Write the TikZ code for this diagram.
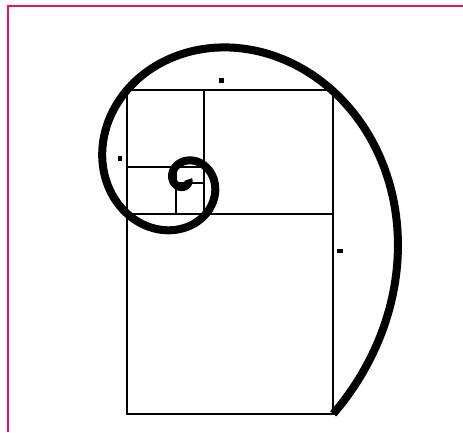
\documentclass[tikz,border=0pt]{standalone}
\usepackage{xcolor}
\definecolor{frame1}{HTML}{E0165A}
\usepackage{tikz}
\usetikzlibrary{calc}

\begin{document}
\begin{tikzpicture}[x=1pt, y=-1pt,
    frameline/.style={draw=frame1, line width=1.5pt},
    square/.style={draw=black, line width=2.2pt},
    spiral/.style={draw=black, line width=8pt},
    blot/.style={fill=black}]
  \useasboundingbox (0,0) rectangle (463,432);
  \draw[frameline] (8,432) -- (8,6) -- (463,6);
  % golden rectangle and its squares
  \coordinate (tl) at (127,90);
  \coordinate (br) at (333,414);
  \draw[square] (tl) rectangle (br);
  \draw[square] (127,214) -- (333,214);
  \draw[square] (204,90) -- (204,214);
  \draw[square] (127,167) -- (204,167);
  \draw[square] (176,167) -- (176,214);
  \draw[square] (176,183) -- (204,183);
  % logarithmic spiral through the corners
  \coordinate (eye) at (184,179.7);
  \draw[spiral] plot[domain=0:780, samples=320, variable=\t, smooth]
    ({184+277.7*exp(-0.005346*\t)*cos(\t-57.5)},
     {179.7-277.7*exp(-0.005346*\t)*sin(\t-57.5)});
  \fill[blot] (219,78) rectangle (224,83);
  \fill[blot] (118,156) rectangle (122,161);
  \fill[blot] (337,249) rectangle (343,253);
\end{tikzpicture}
\end{document}
